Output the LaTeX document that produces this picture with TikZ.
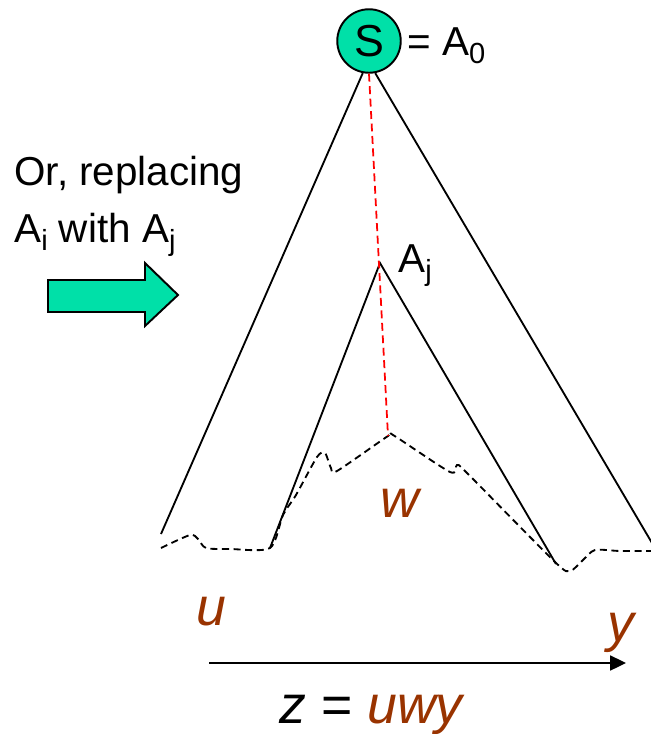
\documentclass[tikz,border=0pt]{standalone}
\usepackage{fontspec}
\setmainfont{Liberation Sans}
\usetikzlibrary{arrows.meta}

\definecolor{ptGreen}{HTML}{00E0A8}
\definecolor{ptBrown}{HTML}{993300}
\definecolor{ptRed}{HTML}{FF0000}

% subscript as PowerPoint sets it
\newcommand{\lowidx}[1]{\raisebox{-0.22em}{\scalebox{0.72}{#1}}}

\tikzset{
  txt/.style={inner sep=0pt,anchor=base west,font=\fontsize{23}{27}\selectfont},
  var/.style={inner sep=0pt,anchor=base west,text=ptBrown,font=\fontsize{30.5}{34}\selectfont\itshape},
  leg/.style={line width=1.05pt},
  yieldline/.style={line width=1.05pt,dash pattern=on 4pt off 2.6pt},
}

\begin{document}
\begin{tikzpicture}[x=0.02cm,y=-0.02cm]
  \useasboundingbox (0,0) rectangle (650,734);

  % ---- start symbol ----
  \node[circle,draw,fill=ptGreen,line width=1.1pt,minimum size=1.27cm,inner sep=0pt,
        font=\fontsize{25.5}{28}\selectfont] (s) at (369,41) {S};
  \node[txt] (a0) at (407,55) {= A\lowidx{0}};

  % ---- outer tree ----
  \coordinate (outerL) at (161,534);
  \coordinate (outerR) at (652,543);
  \draw[leg] (s.-101) -- (outerL);
  \draw[leg] (s.-79)  -- (outerR);

  % ---- inner tree rooted at A_j ----
  \coordinate (aj) at (380,263);
  \coordinate (innerL) at (270,548);
  \coordinate (innerR) at (556,564);
  \draw[leg] (innerL) -- (aj) -- (innerR);
  \node[txt] (ajlab) at (398,272) {A\lowidx{j}};

  % ---- yield (frontier) ----
  \coordinate (wtop) at (388,436);
  \draw[yieldline] plot[smooth,tension=0.45] coordinates {
      (161,548) (190,535) (198,539) (206,548) (230,549) (270,548)
      (283,515) (296,495) (317,457) (325,453) (331,468) (337,471)
      (388,436) (393,435) (450,472) (457,465) (468,474)
      (555,562) (570,571) (583,560) (595,550) (620,551) (652,551)};

  % ---- path from S down to the yield ----
  \draw[ptRed,line width=1pt,dash pattern=on 4.5pt off 2.6pt] (s.south) -- (wtop);

  % ---- substrings ----
  \node[var] (w) at (380,517) {w};
  \node[var] (u) at (196,625) {u};
  \node[var] (y) at (607,641) {y};

  \coordinate (zl) at (209,663);
  \coordinate (zr) at (626,663);
  \draw[line width=1.1pt,-{Triangle[length=9pt,width=8.5pt]}] (zl) -- (zr);
  \node[inner sep=0pt,anchor=base,font=\fontsize{30.5}{34}\selectfont\itshape] (z) at (371,723)
        {z {\upshape=} \textcolor{ptBrown}{uwy}};

  % ---- side note with block arrow ----
  \node[txt] (note1) at (14,185) {Or, replacing};
  \node[txt] (note2) at (14,242) {A\lowidx{i} with A\lowidx{j}};
  \filldraw[fill=ptGreen,draw=black,line width=1.1pt]
      (48,280) -- (145,280) -- (145,263) -- (178,295) -- (145,326) -- (145,312) -- (48,312) -- cycle;
\end{tikzpicture}
\end{document}
